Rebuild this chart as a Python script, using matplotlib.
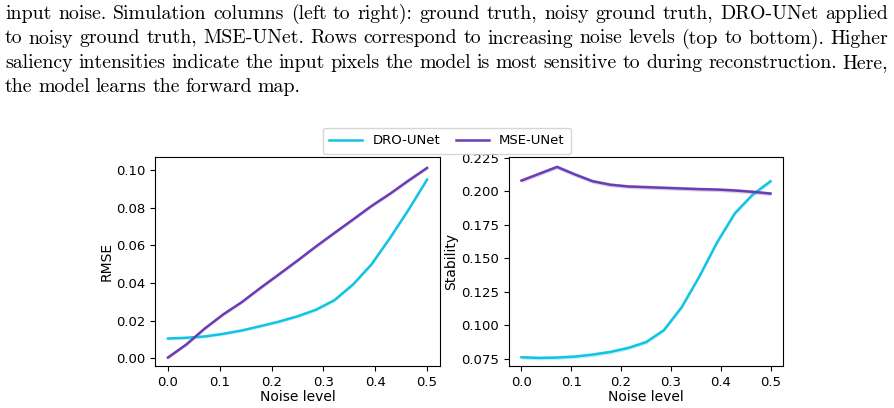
import numpy as np
import matplotlib.pyplot as plt

# noise levels (15 evaluation points)
noise = np.linspace(0.0, 0.5, 15)

# RMSE
rmse_dro = [0.0106, 0.0110, 0.0117, 0.0131, 0.0149, 0.0172, 0.0196, 0.0224,
            0.0259, 0.0310, 0.0393, 0.0500, 0.0640, 0.0790, 0.0950]
rmse_mse = [0.0005, 0.0075, 0.0160, 0.0235, 0.0300, 0.0375, 0.0447, 0.0520,
            0.0595, 0.0667, 0.0738, 0.0810, 0.0875, 0.0945, 0.1012]

# stability
stab_dro = [0.0760, 0.0755, 0.0758, 0.0765, 0.0780, 0.0800, 0.0830, 0.0873,
            0.0962, 0.1133, 0.1363, 0.1619, 0.1836, 0.1975, 0.2074]
stab_mse = [0.2079, 0.2130, 0.2181, 0.2125, 0.2074, 0.2048, 0.2035, 0.2030,
            0.2025, 0.2020, 0.2015, 0.2012, 0.2005, 0.1995, 0.1982]

caption = [
    "input noise. Simulation columns (left to right): ground truth, noisy ground truth, DRO-UNet applied",
    "to noisy ground truth, MSE-UNet. Rows correspond to increasing noise levels (top to bottom). Higher",
    "saliency intensities indicate the input pixels the model is most sensitive to during reconstruction. Here,",
    "the model learns the forward map.",
]

c_dro = '#12c4e3'
c_mse = '#6a3db3'

fig = plt.figure(figsize=(8.95, 4.08), dpi=100)
W, H = 895, 408
renderer = fig.canvas.get_renderer()

# caption, justified like the LaTeX paragraph
left, right = 5, 888
for i, line in enumerate(caption):
    y = 1 - (14 + 24.5 * i) / H
    words = line.split(' ')
    texts = [fig.text(0, y, w, family='cmr10', fontsize=14.3, va='center', ha='left')
             for w in words]
    widths = [t.get_window_extent(renderer).width for t in texts]
    if i < len(caption) - 1:
        gap = (right - left - sum(widths)) / (len(words) - 1)
    else:
        gap = 5.8
    x = left
    for t, w in zip(texts, widths):
        t.set_x(x / W)
        x += w + gap

ax1 = fig.add_axes([155 / W, 1 - 366 / H, 285 / W, 209 / H])
ax2 = fig.add_axes([509 / W, 1 - 366 / H, 274 / W, 209 / H])

for ax, dro, mse, band in [(ax1, rmse_dro, rmse_mse, 0.0008),
                           (ax2, stab_dro, stab_mse, 0.0015)]:
    dro = np.array(dro)
    mse = np.array(mse)
    ax.fill_between(noise, dro - band, dro + band, color=c_dro, alpha=0.25, lw=0)
    ax.fill_between(noise, mse - band, mse + band, color=c_mse, alpha=0.25, lw=0)
    ax.plot(noise, dro, color=c_dro, lw=1.8, label='DRO-UNet')
    ax.plot(noise, mse, color=c_mse, lw=1.8, label='MSE-UNet')
    ax.set_xlabel('Noise level', fontsize=10, labelpad=1)
    ax.set_xticks([0.0, 0.1, 0.2, 0.3, 0.4, 0.5])
    ax.tick_params(labelsize=9.5)

ax1.set_ylabel('RMSE', fontsize=10, labelpad=2)
ax1.set_yticks([0.00, 0.02, 0.04, 0.06, 0.08, 0.10])
ax1.set_ylim(-0.004, 0.107)
ax2.set_ylabel('Stability', fontsize=10, labelpad=2)
ax2.set_yticks([0.075, 0.100, 0.125, 0.150, 0.175, 0.200, 0.225])
ax2.set_ylim(0.0695, 0.2255)

h, l = ax1.get_legend_handles_labels()
fig.legend(h, l, loc='center', bbox_to_anchor=(447 / W, 1 - 141 / H), ncol=2,
           fontsize=9.5, frameon=True, borderpad=0.5, handlelength=2.5,
           columnspacing=1.15)

fig.savefig('out.png', dpi=100)
